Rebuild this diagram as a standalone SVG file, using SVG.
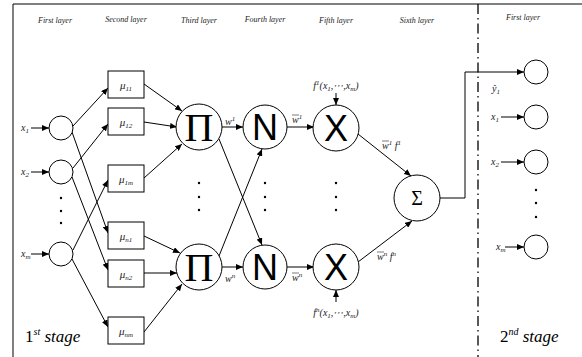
<svg xmlns="http://www.w3.org/2000/svg" width="582" height="357" viewBox="0 0 582 357">
<defs>
<marker id="ar" markerUnits="userSpaceOnUse" markerWidth="8" markerHeight="6" refX="7" refY="3" orient="auto">
<path d="M0,0 L7,3 L0,6 z" fill="#000"/>
</marker>
<style>
.ln{stroke:#000;stroke-width:1;fill:none}
.a{marker-end:url(#ar)}
.nd{fill:#fff;stroke:#000;stroke-width:1}
.serif{font-family:"Liberation Serif","Times New Roman","DejaVu Serif",serif}
.lay{font-family:"Liberation Serif","Times New Roman","DejaVu Serif",serif;font-style:italic;font-size:8px;text-anchor:middle;fill:#222}
.lb{font-family:"Liberation Serif","Times New Roman","DejaVu Serif",serif;font-style:italic;font-size:10px;fill:#222}
.mu{font-family:"Liberation Serif","Times New Roman","DejaVu Serif",serif;font-style:italic;font-size:11px;text-anchor:middle;fill:#222}
.sub{font-size:7px}
.dot{fill:#000}
.st{font-family:"Liberation Serif","Times New Roman","DejaVu Serif",serif;font-size:17px;fill:#000}
.big{font-family:"Liberation Sans",Arial,sans-serif;font-size:36px;text-anchor:middle}
</style>
</defs>
<rect width="582" height="357" fill="#fff"/>
<path class="ln" d="M13,357 V4 H582" stroke-width="1.3"/>
<line x1="478" y1="4" x2="478" y2="357" stroke="#000" stroke-width="1.3" stroke-dasharray="10 4 1.5 4"/>
<g id="labels">
<text class="lay" x="55" y="23">First layer</text>
<text class="lay" x="126" y="22">Second layer</text>
<text class="lay" x="199" y="23">Third layer</text>
<text class="lay" x="265" y="22">Fourth layer</text>
<text class="lay" x="336" y="23">Fifth layer</text>
<text class="lay" x="417" y="23">Sixth layer</text>
<text class="lay" x="523" y="20">First layer</text>
<text class="st" x="25" y="342">1<tspan font-size="10" font-style="italic" dy="-7">st</tspan><tspan font-style="italic" dy="7"> stage</tspan></text>
<text class="st" x="500" y="342">2<tspan font-size="10" font-style="italic" dy="-7">nd</tspan><tspan font-style="italic" dy="7"> stage</tspan></text>
</g>
<g id="connectors">
<line class="ln a" x1="31" y1="128" x2="49" y2="128"/>
<line class="ln a" x1="31" y1="172" x2="49" y2="172"/>
<line class="ln a" x1="31" y1="254" x2="49" y2="254"/>
<line class="ln a" x1="73" y1="126" x2="108" y2="88"/>
<line class="ln a" x1="72" y1="132" x2="108" y2="233"/>
<line class="ln a" x1="73" y1="168" x2="108" y2="124"/>
<line class="ln a" x1="72" y1="177" x2="108" y2="270"/>
<line class="ln a" x1="73" y1="250" x2="108" y2="180"/>
<line class="ln a" x1="72" y1="259" x2="108" y2="327"/>
<line class="ln a" x1="144" y1="84" x2="182" y2="111"/>
<line class="ln a" x1="144" y1="122" x2="177" y2="127"/>
<line class="ln a" x1="144" y1="178" x2="182" y2="144"/>
<line class="ln a" x1="144" y1="236" x2="180" y2="253"/>
<line class="ln a" x1="144" y1="273" x2="177" y2="273"/>
<line class="ln a" x1="144" y1="332" x2="182" y2="284"/>
<line class="ln a" x1="222" y1="127" x2="243" y2="127"/>
<line class="ln a" x1="222" y1="267" x2="243" y2="267"/>
<line class="ln a" x1="219" y1="139" x2="262" y2="245"/>
<line class="ln a" x1="219" y1="256" x2="262" y2="149"/>
<line class="ln a" x1="287" y1="127" x2="314" y2="127"/>
<line class="ln a" x1="287" y1="267" x2="314" y2="267"/>
<line class="ln a" x1="336" y1="93" x2="336" y2="105"/>
<line class="ln a" x1="336" y1="302" x2="336" y2="290"/>
<line class="ln a" x1="358" y1="134" x2="411" y2="176"/>
<line class="ln a" x1="358" y1="262" x2="412" y2="221"/>
<polyline class="ln a" points="440,198 465,198 465,72 524,72" stroke="#333"/>
<line class="ln a" x1="501" y1="117" x2="524" y2="117"/>
<line class="ln a" x1="501" y1="162" x2="524" y2="162"/>
<line class="ln a" x1="505" y1="247" x2="524" y2="247"/>
</g>
<g id="inputs">
<circle class="nd" cx="61" cy="128" r="12"/>
<circle class="nd" cx="61" cy="172" r="12"/>
<circle class="nd" cx="61" cy="254" r="12"/>
<text class="lb" x="21" y="131">x<tspan class="sub" dy="2">1</tspan></text>
<text class="lb" x="21" y="175">x<tspan class="sub" dy="2">2</tspan></text>
<text class="lb" x="21" y="257">x<tspan class="sub" dy="2">m</tspan></text>
<circle class="dot" cx="61" cy="198" r="1.2"/>
<circle class="dot" cx="61" cy="211" r="1.2"/>
<circle class="dot" cx="61" cy="223" r="1.2"/>
</g>
<g id="mf">
<rect class="nd" x="108" y="71" width="36" height="27"/>
<rect class="nd" x="108" y="108" width="36" height="27"/>
<rect class="nd" x="108" y="165" width="36" height="27"/>
<rect class="nd" x="108" y="222" width="36" height="27"/>
<rect class="nd" x="108" y="260" width="36" height="27"/>
<rect class="nd" x="108" y="317" width="36" height="27"/>
<text class="mu" x="126" y="89">μ<tspan class="sub" dy="2">11</tspan></text>
<text class="mu" x="126" y="126">μ<tspan class="sub" dy="2">12</tspan></text>
<text class="mu" x="126" y="183">μ<tspan class="sub" dy="2">1m</tspan></text>
<text class="mu" x="126" y="240">μ<tspan class="sub" dy="2">n1</tspan></text>
<text class="mu" x="126" y="278">μ<tspan class="sub" dy="2">n2</tspan></text>
<text class="mu" x="126" y="335">μ<tspan class="sub" dy="2">nm</tspan></text>
</g>
<g id="pi">
<circle class="nd" cx="199" cy="127" r="23"/>
<circle class="nd" cx="199" cy="267" r="23"/>
<text class="serif" x="199" y="141" font-size="40" text-anchor="middle">Π</text>
<text class="serif" x="199" y="281" font-size="40" text-anchor="middle">Π</text>
<circle class="dot" cx="199" cy="183" r="1.2"/>
<circle class="dot" cx="199" cy="197" r="1.2"/>
<circle class="dot" cx="199" cy="210" r="1.2"/>
<text class="lb" x="225" y="125">w<tspan class="sub" dy="-4">1</tspan></text>
<text class="lb" x="225" y="282">w<tspan class="sub" dy="-4">n</tspan></text>
</g>
<g id="norm">
<circle class="nd" cx="265" cy="127" r="22"/>
<circle class="nd" cx="265" cy="267" r="22"/>
<text class="big" x="265" y="140">N</text>
<text class="big" x="265" y="280">N</text>
<circle class="dot" cx="265" cy="183" r="1.2"/>
<circle class="dot" cx="265" cy="197" r="1.2"/>
<circle class="dot" cx="265" cy="210" r="1.2"/>
<text class="lb" x="292" y="123">w<tspan class="sub" dy="-4">1</tspan></text>
<line x1="292" y1="115" x2="299" y2="115" stroke="#222" stroke-width="0.6"/>
<text class="lb" x="292" y="281">w<tspan class="sub" dy="-4">n</tspan></text>
<line x1="292" y1="273" x2="299" y2="273" stroke="#222" stroke-width="0.6"/>
</g>
<g id="mult">
<circle class="nd" cx="336" cy="128" r="23"/>
<circle class="nd" cx="336" cy="267" r="23"/>
<text class="big" x="336" y="141">X</text>
<text class="big" x="336" y="280">X</text>
<circle class="dot" cx="336" cy="183" r="1.2"/>
<circle class="dot" cx="336" cy="197" r="1.2"/>
<circle class="dot" cx="336" cy="210" r="1.2"/>
<text class="lb" x="336" y="89" text-anchor="middle">f<tspan class="sub" dy="-4">1</tspan><tspan dy="4">(x</tspan><tspan class="sub" dy="2">1</tspan><tspan dy="-2">,⋯,x</tspan><tspan class="sub" dy="2">m</tspan><tspan dy="-2">)</tspan></text>
<text class="lb" x="336" y="316" text-anchor="middle">f<tspan class="sub" dy="-4">n</tspan><tspan dy="4">(x</tspan><tspan class="sub" dy="2">1</tspan><tspan dy="-2">,⋯,x</tspan><tspan class="sub" dy="2">m</tspan><tspan dy="-2">)</tspan></text>
</g>
<g id="sum">
<circle class="nd" cx="417" cy="198" r="23"/>
<text class="serif" x="417" y="205" font-size="20" text-anchor="middle">Σ</text>
<text class="lb" x="382" y="149">w<tspan class="sub" dy="-4">1</tspan><tspan dy="4"> f</tspan><tspan class="sub" dy="-4">1</tspan></text>
<line x1="382" y1="141" x2="389" y2="141" stroke="#222" stroke-width="0.6"/>
<text class="lb" x="377" y="260">w<tspan class="sub" dy="-4">n</tspan><tspan dy="4"> f</tspan><tspan class="sub" dy="-4">n</tspan></text>
<line x1="377" y1="252" x2="384" y2="252" stroke="#222" stroke-width="0.6"/>
</g>
<g id="stage2">
<circle class="nd" cx="536" cy="72" r="12"/>
<circle class="nd" cx="536" cy="117" r="12"/>
<circle class="nd" cx="536" cy="162" r="12"/>
<circle class="nd" cx="536" cy="247" r="12"/>
<circle class="dot" cx="536" cy="190" r="1.2"/>
<circle class="dot" cx="536" cy="203" r="1.2"/>
<circle class="dot" cx="536" cy="217" r="1.2"/>
<text class="lb" x="492" y="92">ŷ<tspan class="sub" dy="2">1</tspan></text>
<text class="lb" x="491" y="120">x<tspan class="sub" dy="2">1</tspan></text>
<text class="lb" x="491" y="165">x<tspan class="sub" dy="2">2</tspan></text>
<text class="lb" x="496" y="250">x<tspan class="sub" dy="2">m</tspan></text>
</g>
</svg>
